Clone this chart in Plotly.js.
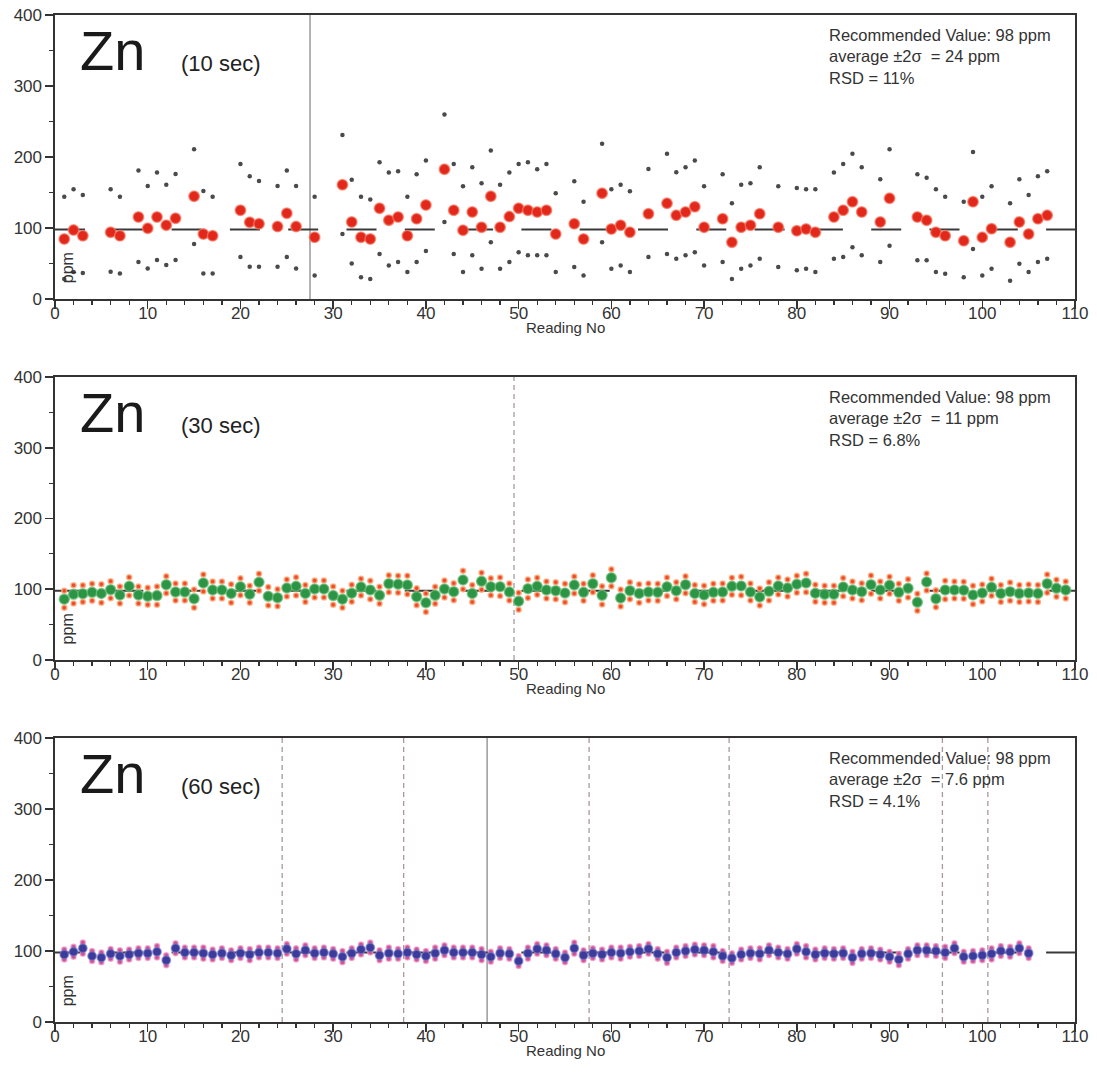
<!DOCTYPE html>
<html>
<head>
<meta charset="utf-8">
<script src="https://cdn.plot.ly/plotly-3.0.1.min.js"></script>
<style>html,body{margin:0;padding:0;background:#fff;}#chart{width:1097px;height:1084px;}</style>
</head>
<body>
<div id="chart"></div>
<script>
// ---------- Top panel (10 sec) ----------
const topReading = [1,2,3,6,7,9,10,11,12,13,15,16,17,20,21,22,24,25,26,28,31,32,33,34,35,36,37,38,39,40,42,43,44,45,46,47,48,49,50,51,52,53,54,56,57,59,60,61,62,64,66,67,68,69,70,72,73,74,75,76,78,80,81,82,84,85,86,87,89,90,93,94,95,96,98,99,100,101,103,104,105,106,107];
const topValue = [84.5,97,89,94,89,115.5,99.5,115.5,104,113.6,144.6,91.5,89,125,108,106,102,120.7,102,87,161,108.5,87,84.5,127.7,111,115.5,89,113,132.4,182.6,125,96.7,122.5,101,144.6,101,116,127.7,125,122.5,125,91.5,106,84.5,149,98.6,103.8,94,120,134.7,117.8,122.5,130,101,113,80,101,103.8,120,101,96,98.6,94,115.5,125,137,122.5,108.5,141.8,115.5,110.8,94,89,82,137,86.8,99,80,108.5,91.5,113,117.8];
const topUpper = [144,154.5,146.5,154.5,144,181,159,178,161,176,211,152,144,190,173,166,159,181,159,144,231,168,144,140,192.5,178,180,144,175.6,195,260,190,158.7,185.5,163,209,161,178,190,192.5,182.6,190,149,165.7,137,218.8,154.5,161,151.6,183,204.7,178.4,185.5,195,158.7,175.6,134.7,161,163,185.5,158.7,156.3,154.5,154.5,178,190,204.7,185.5,168.5,211,175.6,170.9,154.5,144,137,207,144,158.7,134.7,168.5,146.5,173,180];
const topLower = [28,38,36.6,38.5,36,52,43,55,48,55,77.5,36,36,59,45.5,45.5,45.5,59,43,33,91.5,50,30.5,28,63.4,47,52,38,52,67.6,108.5,63.4,38,61.5,42.7,80,42.7,52,65.7,61.5,61.5,61.5,38,45,33,80,42.7,47,38,59,63.4,56.8,61.5,65.7,47,52,28,42.7,47,56.8,45,40.4,42.7,38,56.8,59,72.8,61.5,52,75,54.5,54.5,38,35.7,30.5,70.4,33,42.7,25.8,49.7,38,52,56.8];

// ---------- Middle panel (30 sec) ----------
const midReading = [1,2,3,4,5,6,7,8,9,10,11,12,13,14,15,16,17,18,19,20,21,22,23,24,25,26,27,28,29,30,31,32,33,34,35,36,37,38,39,40,41,42,43,44,45,46,47,48,49,50,51,52,53,54,55,56,57,58,59,60,61,62,63,64,65,66,67,68,69,70,71,72,73,74,75,76,77,78,79,80,81,82,83,84,85,86,87,88,89,90,91,92,93,94,95,96,97,98,99,100,101,102,103,104,105,106,107,108,109];
const midValue = [86,92.8,93.8,95.6,94,99.4,91.9,104.1,92,90,91,106.5,96,96,86.7,108.8,99,99,94,103.6,93,109.8,90,88,101.8,104.1,94,100.3,100.3,91,86,94.3,103,99,91.4,107.9,107,106,89.5,81,91.4,100.3,96.6,113,94,111.2,103.6,103.6,96,83,100.8,104.1,99,98,94.6,106,95.6,107.9,91.4,116.3,87.6,98,94,96,95.6,103.6,98,106.5,94,91.9,95.6,96,104.1,104.6,96,89,97,104.6,101.8,107,108.8,94.3,92.8,92.8,103,99,96.6,106.5,99,105.5,95.6,101.3,81.5,110.2,86.7,99,99,98.5,91.9,94.8,102.7,94,96.6,94,94.8,94,107.9,101.3,99];
const midErr = [12,13,12,12,13,12,12,13,12,12,13,12,12,12,13,12,12,12,13,12,12,12,13,12,12,13,12,12,12,13,12,12,12,13,12,12,12,13,12,13,12,12,12,13,12,12,12,13,12,12,13,12,12,12,13,12,12,12,13,12,12,12,13,12,12,13,12,12,12,13,12,12,12,13,12,12,13,12,12,12,13,12,12,12,13,12,12,13,12,12,12,13,12,12,12,13,12,12,13,12,12,12,13,12,12,12,13,12,12];

// ---------- Bottom panel (60 sec) ----------
const botReading = [1,2,3,4,5,6,7,8,9,10,11,12,13,14,15,16,17,18,19,20,21,22,23,24,25,26,27,28,29,30,31,32,33,34,35,36,37,38,39,40,41,42,43,44,45,46,47,48,49,50,51,52,53,54,55,56,57,58,59,60,61,62,63,64,65,66,67,68,69,70,71,72,73,74,75,76,77,78,79,80,81,82,83,84,85,86,87,88,89,90,91,92,93,94,95,96,97,98,99,100,101,102,103,104,105];
const botValue = [95,99,104,93,91,96,93,95,97,97,99,87,104,98,98,97,95,97,94,97,95,98,98,97,103,96,101,97,98,96,92,97,102,105,94,97,96,98,95,93,97,101,98,98,98,95,92,97,96,86,97,103,101,96,91,104,94,97,95,98,97,99,100,103,96,91,98,100,102,101,99,93,90,95,97,96,101,98,96,103,99,95,97,96,97,91,96,97,95,92,88,96,101,101,100,98,104,92,93,94,96,100,99,104,97];
const botErr = [7,7,8,7,7,7,8,7,7,7,8,7,7,7,7,8,7,7,7,7,8,7,7,7,7,8,7,7,7,7,8,7,7,7,7,8,7,7,7,7,8,7,7,7,7,8,7,7,7,7,8,7,7,7,7,8,7,7,7,7,8,7,7,7,7,8,7,7,7,7,8,7,7,7,7,8,7,7,7,7,8,7,7,7,7,8,7,7,7,7,8,7,7,7,7,8,7,7,7,7,8,7,7,7,7];

// ---------- Reference info ----------
const recommended = 98;
const xRange = [0, 110];
const yRange = [0, 400];
const panelTime = ["(10 sec)", "(30 sec)", "(60 sec)"];
const panelStats = [
  ["Recommended Value: 98 ppm", "average \u00b12\u03c3\u00a0 = 24 ppm", "RSD = 11%"],
  ["Recommended Value: 98 ppm", "average \u00b12\u03c3\u00a0 = 11 ppm", "RSD = 6.8%"],
  ["Recommended Value: 98 ppm", "average \u00b12\u03c3\u00a0 = 7.6 ppm", "RSD = 4.1%"]
];
const solidMarks = [[27.5], [], [46.6]];
const dashedMarks = [[], [49.5], [24.5, 37.6, 57.6, 72.7, 95.7, 100.6]];

const FONT = "Liberation Sans, Arial, Helvetica, sans-serif";
const axSuffix = ["", "2", "3"];
const domains = [[0.718, 1.0], [0.3595, 0.6405], [0.0, 0.282]];

const traces = [];
function refLine(i) {
  traces.push({x: xRange, y: [recommended, recommended], xaxis: "x" + axSuffix[i], yaxis: "y" + axSuffix[i],
    mode: "lines", line: {color: "#3a3a3a", width: 2, dash: "30px,28.3px"}, hoverinfo: "skip", showlegend: false});
}
function pts(x, y, i, size, color, lineColor) {
  traces.push({x: x, y: y, xaxis: "x" + axSuffix[i], yaxis: "y" + axSuffix[i], mode: "markers",
    marker: {size: size, color: color, line: {color: lineColor || color, width: lineColor ? 1.5 : 0}},
    showlegend: false, hoverinfo: "x+y"});
}
// top
refLine(0);
pts(topReading, topUpper, 0, 4.5, "#4a4a4a");
pts(topReading, topLower, 0, 4.5, "#4a4a4a");
pts(topReading, topValue, 0, 10.5, "#e2281b", "rgba(245,120,100,0.7)");
// middle
refLine(1);
pts(midReading, midValue.map((v, k) => v + midErr[k]), 1, 5, "#ee4a2a", "rgba(250,170,120,0.8)");
pts(midReading, midValue.map((v, k) => v - midErr[k]), 1, 5, "#ee4a2a", "rgba(250,170,120,0.8)");
pts(midReading, midValue, 1, 10, "#2c9445", "rgba(110,190,120,0.7)");
// bottom
refLine(2);
pts(botReading, botValue.map((v, k) => v + botErr[k]), 2, 5, "#cf4f93", "rgba(235,150,200,0.7)");
pts(botReading, botValue.map((v, k) => v - botErr[k]), 2, 5, "#cf4f93", "rgba(235,150,200,0.7)");
pts(botReading, botValue, 2, 8.5, "#3b3b9c", "rgba(120,120,200,0.6)");

const layout = {
  width: 1097, height: 1084,
  margin: {l: 55, r: 22, t: 15, b: 62},
  paper_bgcolor: "#ffffff", plot_bgcolor: "#ffffff",
  font: {family: FONT, color: "#333"},
  showlegend: false,
  shapes: [], annotations: []
};

for (let i = 0; i < 3; i++) {
  const s = axSuffix[i];
  layout["xaxis" + s] = {
    anchor: "y" + s, domain: [0, 1], range: xRange, tick0: 0, dtick: 10,
    ticks: "outside", ticklen: 8, tickwidth: 1.5, tickcolor: "#333", ticklabelstandoff: -10,
    minor: {dtick: 2, ticks: "outside", ticklen: 4, tickwidth: 1.2, tickcolor: "#333"},
    showline: true, linecolor: "#333", linewidth: 1.6, mirror: true,
    showgrid: false, zeroline: false, tickfont: {family: FONT, size: 17, color: "#333"}, fixedrange: true
  };
  layout["yaxis" + s] = {
    anchor: "x" + s, domain: domains[i], range: yRange, tick0: 0, dtick: 100,
    ticks: "outside", ticklen: 8, tickwidth: 1.5, tickcolor: "#333",
    minor: {dtick: 50, ticks: "outside", ticklen: 4, tickwidth: 1.2, tickcolor: "#333"},
    showline: true, linecolor: "#333", linewidth: 1.6, mirror: true,
    showgrid: false, zeroline: false, tickfont: {family: FONT, size: 17, color: "#333"}, fixedrange: true
  };
  const xr = "x" + s, yr = "y" + s;
  solidMarks[i].forEach(v => layout.shapes.push({type: "line", xref: xr, yref: yr + " domain", x0: v, x1: v, y0: 0, y1: 1,
    line: {color: "#8a8a8a", width: 1.3}, layer: "below"}));
  dashedMarks[i].forEach(v => layout.shapes.push({type: "line", xref: xr, yref: yr + " domain", x0: v, x1: v, y0: 0, y1: 1,
    line: {color: "#a89a9a", width: 1.3, dash: "5px,4px"}, layer: "below"}));
  layout.annotations.push(
    {xref: xr, yref: yr, x: 2.5, y: 350, text: "Zn", showarrow: false, xanchor: "left", yanchor: "middle",
     font: {family: FONT, size: 56, color: "#1a1a1a"}},
    {xref: xr, yref: yr, x: 17.9, y: 332, text: panelTime[i], showarrow: false, xanchor: "center", yanchor: "middle",
     font: {family: FONT, size: 22, color: "#222"}},
    {xref: xr, yref: yr, x: 83.3, y: 342, text: panelStats[i].join("<br>"), showarrow: false, xanchor: "left", yanchor: "middle", align: "left",
     font: {family: FONT, size: 16.5, color: "#333"}},
    {xref: xr, yref: yr, x: 1.35, y: 44, text: "ppm", showarrow: false, textangle: -90, xanchor: "center", yanchor: "middle",
     font: {family: FONT, size: 16, color: "#333"}},
    {xref: xr + " domain", yref: yr + " domain", x: 0.5, y: -0.1, text: "Reading No", showarrow: false, xanchor: "center", yanchor: "middle",
     font: {family: FONT, size: 15, color: "#333"}}
  );
}

Plotly.newPlot("chart", traces, layout, {displayModeBar: false, staticPlot: true});
</script>
</body>
</html>
